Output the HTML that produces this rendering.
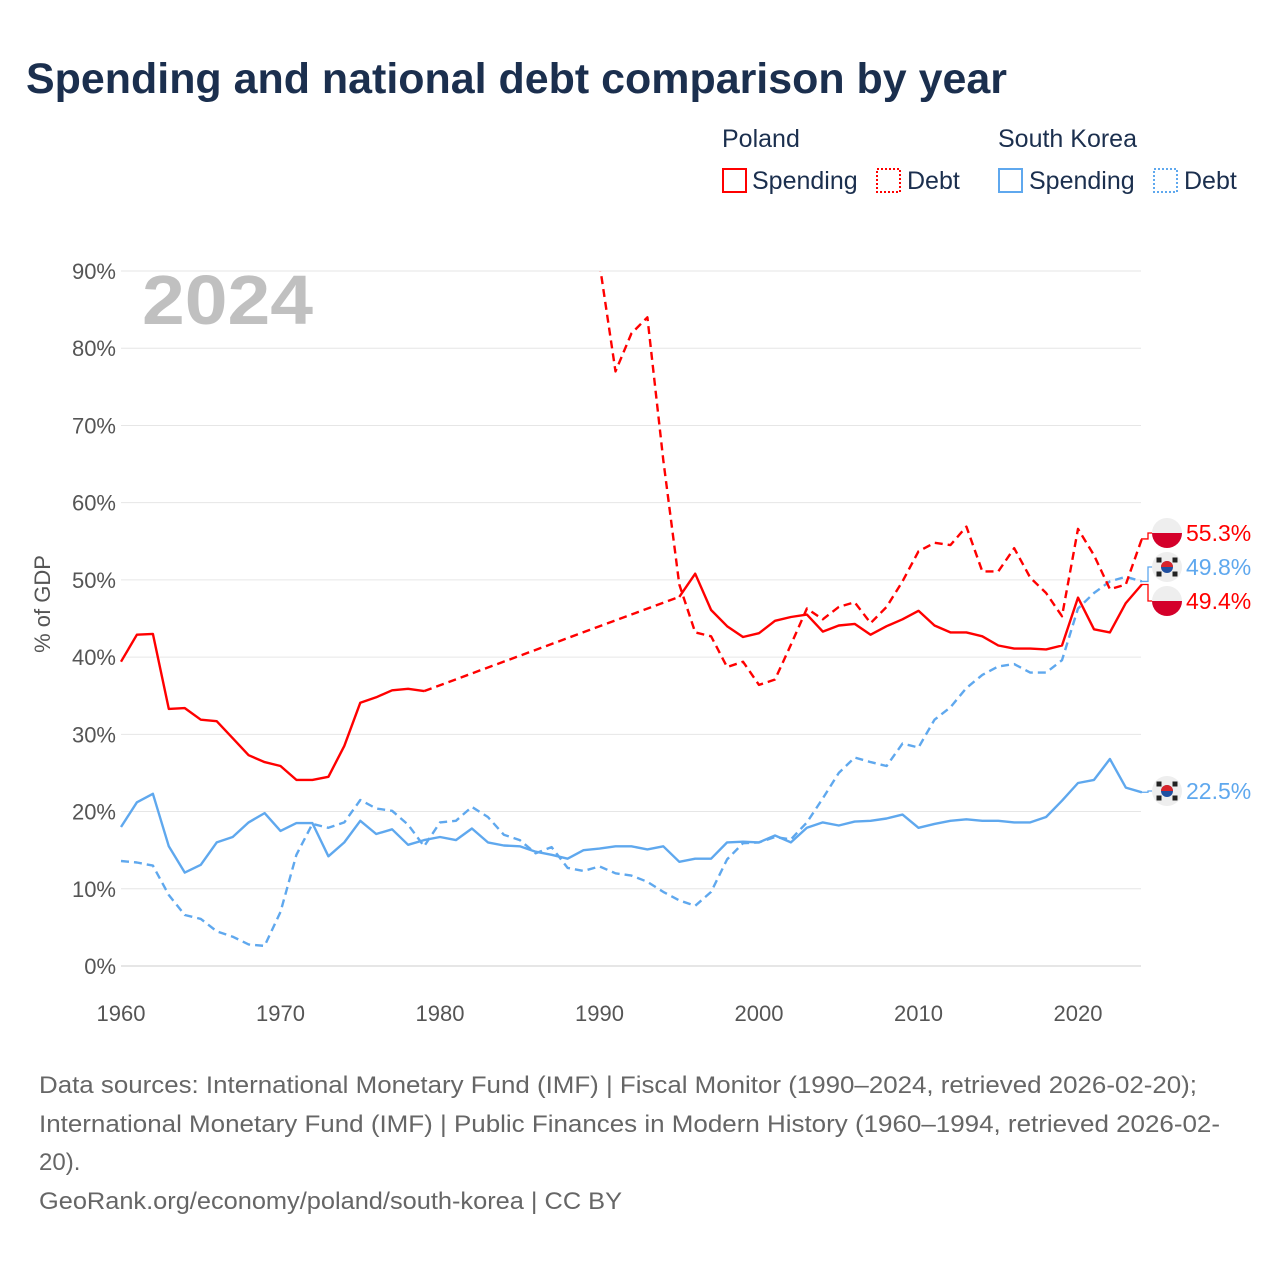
<!DOCTYPE html>
<html><head><meta charset="utf-8"><style>
html,body{margin:0;padding:0;background:#fff;}
body{width:1280px;height:1280px;overflow:hidden;font-family:"Liberation Sans",sans-serif;}
svg text{font-family:"Liberation Sans",sans-serif;}
</style></head><body>
<svg id="chart" width="1280" height="1280" xmlns="http://www.w3.org/2000/svg">
<text x="26" y="93" font-size="43" font-weight="bold" fill="#1b2f4e" textLength="981" lengthAdjust="spacingAndGlyphs">Spending and national debt comparison by year</text>
<g font-size="25" fill="#1b2f4e">
<text x="722" y="147">Poland</text>
<text x="998" y="147">South Korea</text>
<rect x="723" y="169" width="23" height="23" fill="none" stroke="#ff0000" stroke-width="2"/>
<text x="752" y="189">Spending</text>
<rect x="877" y="169" width="23" height="23" fill="none" stroke="#ff0000" stroke-width="2" stroke-dasharray="2,2"/>
<text x="907" y="189">Debt</text>
<rect x="999" y="169" width="23" height="23" fill="none" stroke="#5fa8ee" stroke-width="2"/>
<text x="1029" y="189">Spending</text>
<rect x="1154" y="169" width="23" height="23" fill="none" stroke="#5fa8ee" stroke-width="2" stroke-dasharray="2,2"/>
<text x="1184" y="189">Debt</text>
</g>
<g id="grid"></g>
<g id="yticks" font-size="22" fill="#555" text-anchor="end"></g>
<g id="xticks" font-size="22" fill="#555" text-anchor="middle"></g>
<text transform="translate(50,604) rotate(-90)" font-size="22" fill="#555" text-anchor="middle">% of GDP</text>
<text x="142" y="324" font-size="70" font-weight="bold" fill="#c0c0c0" textLength="171" lengthAdjust="spacingAndGlyphs">2024</text>
<defs><clipPath id="plotclip"><rect x="100" y="271" width="1100" height="720"/></clipPath></defs>
<g id="series" clip-path="url(#plotclip)"></g>
<g id="labels" font-size="23"></g>
<g font-size="24" fill="#666">
<text x="39" y="1093" textLength="1158" lengthAdjust="spacingAndGlyphs">Data sources: International Monetary Fund (IMF) | Fiscal Monitor (1990–2024, retrieved 2026-02-20);</text>
<text x="39" y="1132" textLength="1181" lengthAdjust="spacingAndGlyphs">International Monetary Fund (IMF) | Public Finances in Modern History (1960–1994, retrieved 2026-02-</text>
<text x="39" y="1170">20).</text>
<text x="39" y="1209" textLength="583" lengthAdjust="spacingAndGlyphs">GeoRank.org/economy/poland/south-korea | CC BY</text>
</g>
</svg>
<script>
const yTicks=[0,10,20,30,40,50,60,70,80,90];
const xTicks=[1960,1970,1980,1990,2000,2010,2020];
const plSpendYears=[1960,1961,1962,1963,1964,1965,1966,1967,1968,1969,1970,1971,1972,1973,1974,1975,1976,1977,1978,1979,1995,1996,1997,1998,1999,2000,2001,2002,2003,2004,2005,2006,2007,2008,2009,2010,2011,2012,2013,2014,2015,2016,2017,2018,2019,2020,2021,2022,2023,2024];
const plSpend=[39.4,42.9,43.0,33.3,33.4,31.9,31.7,29.5,27.3,26.4,25.9,24.1,24.1,24.5,28.5,34.1,34.8,35.7,35.9,35.6,47.8,50.8,46.1,44.0,42.6,43.1,44.7,45.2,45.5,43.3,44.1,44.3,42.9,44.0,44.9,46.0,44.1,43.2,43.2,42.7,41.5,41.1,41.1,41.0,41.5,47.7,43.6,43.2,47.0,49.4];
const plDebtYears=[1990,1991,1992,1993,1994,1995,1996,1997,1998,1999,2000,2001,2002,2003,2004,2005,2006,2007,2008,2009,2010,2011,2012,2013,2014,2015,2016,2017,2018,2019,2020,2021,2022,2023,2024];
const plDebt=[91,77,81.9,84,65.5,49.4,43.2,42.7,38.7,39.4,36.4,37.1,41.6,46.3,44.9,46.5,47.1,44.4,46.5,49.8,53.7,54.8,54.5,56.9,51.1,51.1,54.1,50.3,48.3,45.3,56.6,53.2,48.8,49.4,55.3];
const krYears=[];for(let y=1960;y<=2024;y++)krYears.push(y);
const krSpend=[18.0,21.2,22.3,15.5,12.1,13.1,16.0,16.7,18.6,19.8,17.5,18.5,18.5,14.2,16.0,18.8,17.1,17.7,15.7,16.3,16.7,16.3,17.8,16.0,15.6,15.5,14.8,14.4,13.9,15.0,15.2,15.5,15.5,15.1,15.5,13.5,13.9,13.9,16.0,16.1,16.0,16.9,16.0,17.9,18.6,18.2,18.7,18.8,19.1,19.6,17.9,18.4,18.8,19.0,18.8,18.8,18.6,18.6,19.3,21.4,23.7,24.1,26.8,23.1,22.5];
const krDebt=[13.6,13.4,13.0,9.2,6.6,6.1,4.5,3.8,2.8,2.6,7.0,14.4,18.4,17.9,18.6,21.5,20.4,20.1,18.3,15.5,18.6,18.8,20.6,19.3,17.0,16.3,14.6,15.4,12.7,12.3,12.9,12.0,11.7,10.9,9.6,8.5,7.8,9.6,13.8,15.9,16.0,16.7,16.4,18.6,21.7,25.0,27.0,26.4,25.9,28.8,28.3,31.9,33.5,36.0,37.7,38.8,39.1,38.0,38.0,39.6,46.3,48.3,49.8,50.4,49.8];
const NS='http://www.w3.org/2000/svg';
const X=y=>121+(y-1960)*(1078-121)/60;
const Y=v=>966-v*(966-271)/90;
function mk(t,parent,attrs){const e=document.createElementNS(NS,t);for(const k in attrs)e.setAttribute(k,attrs[k]);parent.appendChild(e);return e;}
const grid=document.getElementById('grid'),yt=document.getElementById('yticks'),xt=document.getElementById('xticks');
yTicks.forEach(v=>{
 const l=mk('line',grid,{x1:121,x2:1141,y1:Y(v),y2:Y(v),stroke:v===0?'#ccc':'#e6e6e6','stroke-width':1});
 
 
 const t=mk('text',yt,{x:116,y:Y(v)+8});t.textContent=v+'%';
 
 
});
xTicks.forEach(y=>{
 const t=mk('text',xt,{x:X(y),y:1021});t.textContent=y;
 
 
});
const ser=document.getElementById('series');
function line(ys,vs,color,dash,name){
 let seg=[[0]];
 for(let i=1;i<ys.length;i++){if(ys[i]-ys[i-1]>1)seg.push([i]);else seg[seg.length-1].push(i);}
 seg.forEach((s,k)=>{
  const p=mk('polyline',ser,{points:s.map(i=>X(ys[i]).toFixed(1)+','+Y(vs[i]).toFixed(1)).join(' '),fill:'none',stroke:color,'stroke-width':2.4,'stroke-linejoin':'round'});
  if(dash)p.setAttribute('stroke-dasharray','8,5');
  
  
  if(k>0){const a=s[0]-1,b=s[0];
   const g=mk('line',ser,{x1:X(ys[a]),y1:Y(vs[a]),x2:X(ys[b]),y2:Y(vs[b]),stroke:color,'stroke-width':2.4,'stroke-dasharray':'8,5'});
   
   }
 });
}
line(krYears,krDebt,'#5fa8ee',true,'korea-debt');
line(krYears,krSpend,'#5fa8ee',false,'korea-spending');
line(plDebtYears,plDebt,'#ff0000',true,'poland-debt');
line(plSpendYears,plSpend,'#ff0000',false,'poland-spending');
const lab=document.getElementById('labels');
function endLabel(v,ly,color,flag,name){
 const yv=Y(v);
 const c=mk('polyline',lab,{points:`1141,${yv} 1148,${yv} 1148,${ly} 1155,${ly}`,fill:'none',stroke:color,'stroke-width':1.3});
 
 
 const g=mk('g',lab,{});
 
 
 mk('circle',g,{cx:1167,cy:ly,r:15,fill:'#eee'});
 if(flag==='pl'){mk('path',g,{d:`M1152,${ly} A15,15 0 0,0 1182,${ly} Z`,fill:'#d4002a'});}
 else{mk('circle',g,{cx:1167,cy:ly,r:6,fill:'#1f4fa0'});mk('path',g,{d:`M1161,${ly} A6,6 0 0,1 1173,${ly} Z`,fill:'#d8232a'});
  [[-8,-7],[8,-7],[-8,7],[8,7]].forEach(d=>mk('rect',g,{x:1167+d[0]-2.5,y:ly+d[1]-2.5,width:5,height:5,fill:'#222'}));}
 const t=mk('text',lab,{x:1186,y:ly+8,fill:color});t.textContent=v.toFixed(1)+'%';
 
 
}
endLabel(plDebt[plDebt.length-1],533,'#ff0000','pl','poland-debt');
endLabel(krDebt[krDebt.length-1],567,'#5fa8ee','kr','korea-debt');
endLabel(plSpend[plSpend.length-1],601,'#ff0000','pl','poland-spending');
endLabel(krSpend[krSpend.length-1],791,'#5fa8ee','kr','korea-spending');
</script>
</body></html>
